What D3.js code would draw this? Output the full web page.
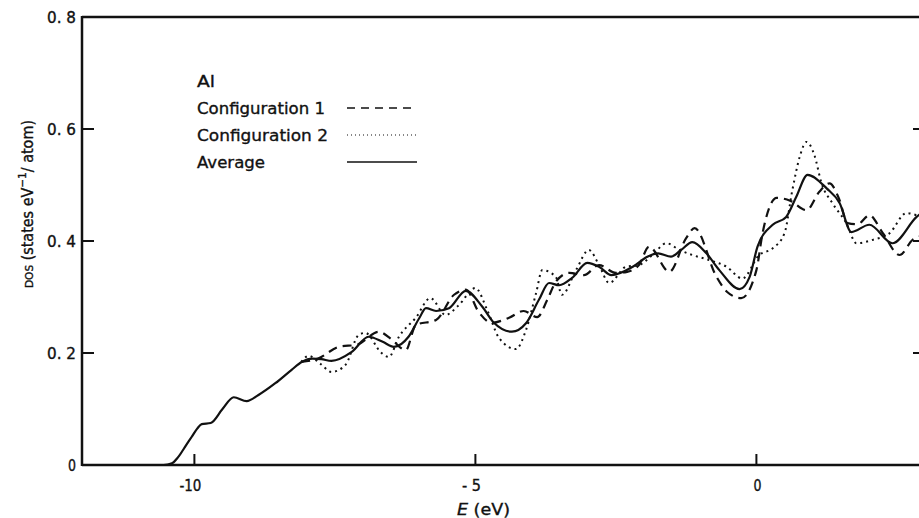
<!DOCTYPE html>
<html>
<head>
<meta charset="utf-8">
<script src="https://cdn.jsdelivr.net/npm/d3@7"></script>
<style>
  body { margin: 0; background: #fff; }
  svg { display: block; }
  text { font-family: "DejaVu Sans", sans-serif; fill: #111; stroke: #111; stroke-width: 0.35; }
</style>
</head>
<body>
<svg id="chart" width="919" height="518"></svg>
<script>
// density of states for Al
var avgE = [-12, -10.55, -10.4, -10.29, -10.15, -10.05, -9.95, -9.87, -9.71, -9.5, -9.3, -9.07, -8.86, -8.56, -8.27, -8.09, -7.9, -7.74, -7.56, -7.2, -6.9, -6.65, -6.45, -6.19, -6.0, -5.88, -5.7, -5.47, -5.17, -4.88, -4.67, -4.35, -4.1, -3.87, -3.69, -3.51, -3.28, -3.01, -2.8, -2.58, -2.2, -1.94, -1.75, -1.52, -1.34, -1.14, -0.89, -0.66, -0.3, -0.12, 0.02, 0.29, 0.53, 0.71, 0.91, 1.25, 1.48, 1.69, 2.01, 2.42, 2.85, 3.0];
var avgDos = [0, 0, 0.003, 0.014, 0.035, 0.05, 0.065, 0.073, 0.075, 0.1, 0.121, 0.114, 0.125, 0.146, 0.17, 0.184, 0.19, 0.189, 0.186, 0.202, 0.229, 0.22, 0.211, 0.229, 0.262, 0.28, 0.275, 0.28, 0.311, 0.283, 0.254, 0.238, 0.253, 0.295, 0.325, 0.321, 0.334, 0.361, 0.354, 0.339, 0.354, 0.372, 0.378, 0.372, 0.384, 0.398, 0.378, 0.348, 0.314, 0.336, 0.39, 0.429, 0.443, 0.479, 0.518, 0.494, 0.468, 0.416, 0.429, 0.396, 0.443, 0.455];

var conf1E = [-8.1, -7.8, -7.43, -7.1, -6.72, -6.5, -6.24, -6.06, -5.7, -5.38, -5.17, -4.94, -4.71, -4.4, -4.14, -3.9, -3.72, -3.57, -3.33, -3.07, -2.8, -2.5, -2.3, -2.09, -1.91, -1.55, -1.25, -1.1, -0.71, -0.52, -0.27, 0.0, 0.11, 0.36, 0.6, 0.89, 1.12, 1.3, 1.48, 1.62, 1.8, 2.01, 2.25, 2.55, 2.78, 3.0];
var conf1Dos = [0.184, 0.19, 0.211, 0.215, 0.238, 0.225, 0.205, 0.25, 0.259, 0.304, 0.313, 0.273, 0.254, 0.263, 0.275, 0.264, 0.295, 0.327, 0.343, 0.339, 0.357, 0.343, 0.345, 0.357, 0.39, 0.345, 0.405, 0.423, 0.336, 0.309, 0.298, 0.348, 0.414, 0.477, 0.472, 0.455, 0.488, 0.503, 0.473, 0.432, 0.43, 0.446, 0.414, 0.375, 0.402, 0.41];

var conf2E = [-8.1, -7.97, -7.75, -7.56, -7.31, -7.08, -6.96, -6.67, -6.54, -6.36, -6.06, -5.8, -5.53, -5.3, -5.0, -4.79, -4.58, -4.28, -4.1, -3.92, -3.81, -3.57, -3.46, -3.21, -2.98, -2.8, -2.62, -2.32, -2.09, -1.85, -1.6, -1.37, -1.14, -0.84, -0.53, -0.25, 0.05, 0.29, 0.5, 0.64, 0.77, 0.89, 1.03, 1.16, 1.35, 1.6, 1.78, 2.07, 2.37, 2.67, 2.85, 3.0];
var conf2Dos = [0.184, 0.195, 0.18, 0.166, 0.179, 0.232, 0.236, 0.2, 0.193, 0.229, 0.263, 0.298, 0.268, 0.285, 0.316, 0.277, 0.227, 0.207, 0.241, 0.307, 0.348, 0.336, 0.304, 0.348, 0.384, 0.357, 0.325, 0.354, 0.357, 0.375, 0.396, 0.384, 0.375, 0.366, 0.354, 0.333, 0.375, 0.387, 0.414, 0.491, 0.55, 0.577, 0.554, 0.503, 0.468, 0.432, 0.396, 0.402, 0.414, 0.45, 0.446, 0.44];

var xTicks = [-10, -5, 0];
var xTickLabels = ["-10", "- 5", "0"];
var yTicks = [0, 0.2, 0.4, 0.6, 0.8];
var yTickLabels = ["0", "0. 2", "0. 4", "0. 6", "0. 8"];
var legendLabels = ["Configuration 1", "Configuration 2", "Average"];

var svg = d3.select("#chart");

var x = d3.scaleLinear().domain([-12, 3]).range([82, 925]);
var y = d3.scaleLinear().domain([0, 0.8]).range([465, 17]);

function pairs(es, vs) { return es.map(function (e, i) { return [e, vs[i]]; }); }

var series = [
  { name: legendLabels[0], data: pairs(conf1E, conf1Dos), dash: "9,6", width: 2.2, key: 128 },
  { name: legendLabels[1], data: pairs(conf2E, conf2Dos), dash: "2,4", width: 2, key: 131 },
  { name: legendLabels[2], data: pairs(avgE, avgDos), dash: null, width: 2.2, key: 68 }
];

svg.append("clipPath").attr("id", "plot")
  .append("rect").attr("x", 82).attr("y", 17).attr("width", 843).attr("height", 448);

var line = d3.line()
  .x(function (d) { return x(d[0]); })
  .y(function (d) { return y(d[1]); })
  .curve(d3.curveMonotoneX);

svg.append("g").attr("clip-path", "url(#plot)")
  .selectAll("path").data(series).enter().append("path")
  .attr("d", function (d) { return line(d.data); })
  .attr("fill", "none")
  .attr("stroke", "#111")
  .attr("stroke-width", function (d) { return d.width; })
  .attr("stroke-dasharray", function (d) { return d.dash; });

// frame
var frame = svg.append("g").attr("stroke", "#111").attr("fill", "none");
frame.append("line").attr("x1", x(-12)).attr("x2", x(-12)).attr("y1", y(0.8) - 1).attr("y2", y(0) + 1).attr("stroke-width", 2.5);
frame.append("line").attr("x1", x(-12)).attr("x2", 919).attr("y1", y(0)).attr("y2", y(0)).attr("stroke-width", 2.5);
frame.append("line").attr("x1", x(-12)).attr("x2", 919).attr("y1", y(0.8)).attr("y2", y(0.8)).attr("stroke-width", 2.5);
frame.append("line").attr("x1", x(3)).attr("x2", x(3)).attr("y1", y(0.8)).attr("y2", y(0)).attr("stroke-width", 2.5);

// x ticks (inward) and labels
var xAxis = svg.append("g");
xAxis.selectAll("line").data(xTicks).enter().append("line")
  .attr("x1", function (d) { return x(d); }).attr("x2", function (d) { return x(d); })
  .attr("y1", y(0)).attr("y2", y(0) - 11)
  .attr("stroke", "#111").attr("stroke-width", 2);
xAxis.selectAll("text").data(xTicks).enter().append("text")
  .attr("x", function (d) { return x(d) - (d === 0 ? -1 : 4); })
  .attr("y", 491)
  .attr("text-anchor", "middle")
  .attr("font-size", 15)
  .attr("textLength", function (d) { return d === 0 ? 8 : d === -10 ? 22 : 19; })
  .attr("lengthAdjust", "spacingAndGlyphs")
  .text(function (d, i) { return xTickLabels[i]; });

// y ticks on both sides
var yAxis = svg.append("g");
yAxis.selectAll("line.l").data(yTicks.slice(1, 4)).enter().append("line")
  .attr("x1", x(-12)).attr("x2", x(-12) + 12)
  .attr("y1", function (d) { return y(d); }).attr("y2", function (d) { return y(d); })
  .attr("stroke", "#111").attr("stroke-width", 2);
yAxis.selectAll("line.r").data(yTicks.slice(1, 4)).enter().append("line")
  .attr("x1", x(3)).attr("x2", x(3) - 12)
  .attr("y1", function (d) { return y(d); }).attr("y2", function (d) { return y(d); })
  .attr("stroke", "#111").attr("stroke-width", 2);
yAxis.selectAll("text").data(yTicks).enter().append("text")
  .attr("x", 76)
  .attr("y", function (d) { return y(d) + 5.5; })
  .attr("text-anchor", "end")
  .attr("font-size", 15)
  .attr("textLength", function (d) { return d === 0 ? 8 : 29; })
  .attr("lengthAdjust", "spacingAndGlyphs")
  .text(function (d, i) { return yTickLabels[i]; });

// axis titles
var xt = svg.append("text").attr("x", 457).attr("y", 515).attr("font-size", 16)
  .attr("textLength", 53).attr("lengthAdjust", "spacingAndGlyphs");
xt.append("tspan").attr("font-style", "italic").text("E");
xt.append("tspan").text("  (eV)");

var yt = svg.append("text")
  .attr("transform", "translate(33,288) rotate(-90)")
  .attr("font-size", 15)
  .attr("textLength", 168).attr("lengthAdjust", "spacingAndGlyphs");
yt.append("tspan").attr("font-size", 11).text("DOS");
yt.append("tspan").text(" (states  eV");
yt.append("tspan").attr("font-size", 11).attr("dy", -7).text("−1");
yt.append("tspan").attr("dy", 7).text("/ atom)");

// legend
var legend = svg.append("g").attr("font-size", 16);
legend.append("text").attr("x", 197).attr("y", 87).text("Al")
  .attr("textLength", 18).attr("lengthAdjust", "spacingAndGlyphs");
var rows = legend.selectAll("g.row").data(series).enter().append("g")
  .attr("transform", function (d, i) { return "translate(0," + (114 + i * 27) + ")"; });
rows.append("text").attr("x", 197).attr("y", 0)
  .attr("textLength", function (d) { return d.key; })
  .attr("lengthAdjust", "spacingAndGlyphs")
  .text(function (d) { return d.name; });
rows.append("line")
  .attr("x1", 347).attr("x2", 417).attr("y1", -6).attr("y2", -6)
  .attr("stroke", "#111")
  .attr("stroke-width", function (d) { return d.dash === "2,4" ? 1.2 : 1.6; })
  .attr("stroke-dasharray", function (d) { return d.dash === "9,6" ? "8,6" : d.dash === "2,4" ? "1,3" : null; });
</script>
</body>
</html>
